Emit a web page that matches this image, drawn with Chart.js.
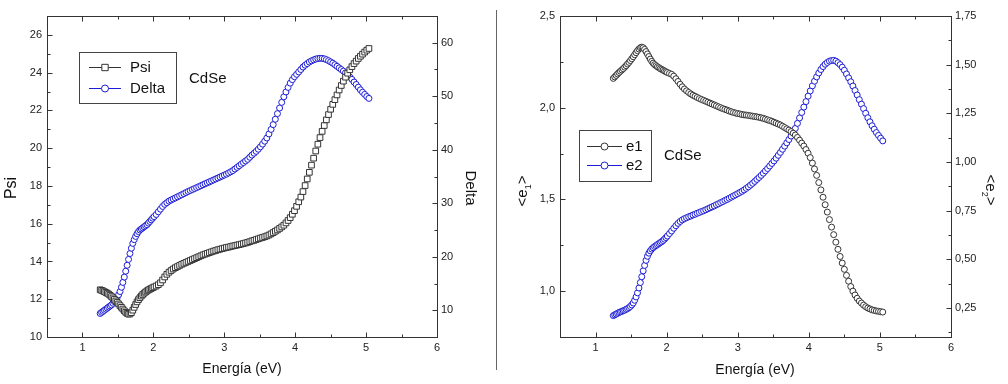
<!DOCTYPE html>
<html>
<head>
<meta charset="utf-8">
<script src="https://cdn.jsdelivr.net/npm/chart.js@4.4.1/dist/chart.umd.min.js"></script>
<style>
  body { margin: 0; background: #fff; width: 1008px; height: 384px; overflow: hidden; position: relative; }
  canvas { position: absolute; top: 0; }
  #left { left: 0; }
  #right { left: 500px; }
  .divider { position: absolute; left: 496px; top: 10px; width: 1px; height: 360px; background: #666; }
</style>
</head>
<body>
<canvas id="left" width="496" height="384"></canvas>
<canvas id="right" width="508" height="384"></canvas>
<div class="divider"></div>
<script>
// photon energy (eV), shared by both panels
var energy = [1.25,1.27,1.29,1.31,1.33,1.35,1.37,1.39,1.41,1.43,1.45,1.47,1.49,1.51,1.53,1.55,1.57,1.59,1.61,1.63,1.65,1.67,1.69,1.71,1.73,1.75,1.77,1.79,1.81,1.83,1.85,1.87,1.89,1.91,1.93,1.95,1.97,1.99,
  2.01,2.04,2.07,2.10,2.13,2.16,2.19,2.22,2.25,2.28,2.31,2.34,2.37,2.40,2.43,2.46,2.49,2.52,2.55,2.58,2.61,2.64,2.67,2.70,2.73,2.76,2.79,2.82,2.85,2.88,2.91,2.94,2.97,3.00,
  3.03,3.06,3.09,3.12,3.15,3.18,3.21,3.24,3.27,3.30,3.33,3.36,3.39,3.42,3.45,3.48,3.51,3.54,3.57,3.60,3.63,3.66,3.69,3.72,3.75,3.78,3.81,3.84,3.87,3.90,3.93,3.96,3.99,
  4.02,4.05,4.08,4.11,4.14,4.17,4.20,4.23,4.26,4.29,4.32,4.35,4.38,4.41,4.44,4.47,4.50,4.53,4.56,4.59,4.62,4.65,4.68,4.71,4.74,4.77,4.80,4.83,4.86,4.89,4.92,4.95,4.98,5.01,5.04];

var psi = [12.50,12.47,12.44,12.40,12.36,12.32,12.27,12.21,12.14,12.07,11.99,11.91,11.83,11.75,11.66,11.57,11.48,11.39,11.31,11.25,11.21,11.22,11.29,11.42,11.57,11.72,11.86,11.98,12.08,12.17,12.25,12.32,12.38,12.44,12.49,12.53,12.57,12.61,
  12.65,12.70,12.77,12.87,13.02,13.18,13.32,13.43,13.52,13.60,13.67,13.73,13.79,13.85,13.90,13.95,14.00,14.05,14.10,14.15,14.20,14.25,14.30,14.35,14.39,14.43,14.47,14.51,14.55,14.58,14.62,14.65,14.68,14.71,
  14.74,14.76,14.79,14.82,14.84,14.87,14.89,14.92,14.95,14.98,15.01,15.05,15.09,15.12,15.16,15.20,15.24,15.27,15.31,15.35,15.40,15.46,15.53,15.60,15.67,15.75,15.83,15.92,16.04,16.17,16.32,16.50,16.69,
  16.92,17.16,17.41,17.70,18.02,18.37,18.72,19.10,19.47,19.85,20.21,20.56,20.89,21.20,21.50,21.78,22.06,22.32,22.57,22.82,23.08,23.32,23.55,23.76,23.97,24.15,24.32,24.48,24.61,24.75,24.87,24.98,25.09,25.19,25.28];

var delta = [9.4,9.6,9.8,10.0,10.2,10.4,10.6,10.8,11.0,11.3,11.6,12.0,12.4,12.9,13.5,14.3,15.2,16.2,17.3,18.4,19.5,20.6,21.6,22.5,23.2,23.8,24.3,24.7,25.0,25.2,25.4,25.6,25.8,26.0,26.3,26.6,26.9,27.2,
  27.5,27.9,28.4,28.9,29.4,29.8,30.1,30.4,30.6,30.8,31.0,31.2,31.4,31.6,31.8,32.0,32.2,32.38,32.56,32.74,32.92,33.1,33.28,33.46,33.64,33.82,34.0,34.18,34.36,34.54,34.72,34.9,35.08,35.26,
  35.44,35.65,35.88,36.1,36.4,36.7,37.0,37.3,37.6,37.9,38.2,38.6,39.0,39.35,39.7,40.1,40.55,41.05,41.6,42.2,42.95,43.8,44.7,45.7,46.75,47.8,48.85,49.9,50.8,51.65,52.45,53.1,53.65,
  54.1,54.55,55.0,55.45,55.8,56.1,56.4,56.62,56.8,56.95,57.05,57.1,57.08,57.0,56.85,56.65,56.42,56.18,55.9,55.6,55.3,55.0,54.7,54.38,54.0,53.6,53.15,52.65,52.2,51.7,51.2,50.75,50.35,49.95,49.6];

var e1 = [2.160,2.168,2.176,2.184,2.192,2.199,2.206,2.213,2.221,2.229,2.238,2.247,2.257,2.267,2.278,2.289,2.300,2.311,2.320,2.327,2.330,2.327,2.318,2.306,2.293,2.279,2.265,2.253,2.243,2.235,2.229,2.223,2.218,2.213,2.209,2.205,2.200,2.196,
  2.192,2.187,2.182,2.172,2.158,2.143,2.128,2.114,2.102,2.092,2.083,2.075,2.068,2.062,2.056,2.050,2.045,2.040,2.035,2.030,2.025,2.020,2.015,2.010,2.005,2.000,1.995,1.991,1.987,1.982,1.978,1.974,1.971,1.968,
  1.966,1.963,1.961,1.960,1.958,1.956,1.954,1.952,1.950,1.948,1.945,1.942,1.938,1.934,1.930,1.926,1.921,1.916,1.911,1.906,1.899,1.892,1.885,1.878,1.870,1.861,1.851,1.838,1.823,1.807,1.791,1.772,1.752,
  1.728,1.698,1.666,1.631,1.592,1.552,1.512,1.471,1.431,1.390,1.349,1.308,1.267,1.228,1.189,1.153,1.119,1.086,1.054,1.025,1.000,0.979,0.961,0.946,0.935,0.924,0.915,0.908,0.903,0.898,0.895,0.892,0.890,0.888,0.886];

var e2 = [0.210,0.214,0.218,0.222,0.226,0.229,0.232,0.235,0.238,0.242,0.246,0.251,0.257,0.265,0.275,0.289,0.306,0.327,0.352,0.380,0.410,0.440,0.468,0.494,0.515,0.531,0.543,0.552,0.559,0.565,0.570,0.575,0.580,0.585,0.590,0.596,0.603,0.611,
  0.619,0.632,0.645,0.659,0.672,0.684,0.694,0.702,0.708,0.713,0.718,0.722,0.727,0.731,0.736,0.740,0.745,0.749,0.754,0.759,0.764,0.769,0.774,0.780,0.785,0.791,0.796,0.802,0.807,0.813,0.819,0.825,0.831,0.837,
  0.843,0.849,0.856,0.864,0.872,0.881,0.890,0.900,0.910,0.920,0.931,0.942,0.954,0.966,0.979,0.992,1.005,1.019,1.034,1.049,1.065,1.081,1.098,1.115,1.133,1.152,1.172,1.198,1.226,1.254,1.282,1.310,1.338,
  1.365,1.391,1.415,1.437,1.457,1.475,1.490,1.502,1.511,1.518,1.521,1.522,1.518,1.510,1.500,1.487,1.471,1.452,1.432,1.412,1.390,1.367,1.344,1.320,1.297,1.274,1.250,1.227,1.206,1.186,1.168,1.151,1.136,1.122,1.108];

var energyTicks = [1, 2, 3, 4, 5, 6];
var psiTicks = [10, 12, 14, 16, 18, 20, 22, 24, 26];
var deltaTicks = [10, 20, 30, 40, 50, 60];
var e1Ticks = [1.0, 1.5, 2.0, 2.5];
var e2Ticks = [0.25, 0.50, 0.75, 1.00, 1.25, 1.50, 1.75];

var FONT = "'Liberation Sans', Arial, sans-serif";
var BLUE = '#1c1cd6';
var DARK = '#333';

function pts(xs, ys) {
  return xs.map(function(x, i) { return {x: x, y: ys[i]}; });
}

function setTicks(values) {
  return function(scale) {
    scale.ticks = values.map(function(v) { return {value: v}; });
  };
}

function minorValues(scale) {
  var t = scale.ticks.map(function(k) { return k.value; });
  var step = t[1] - t[0];
  var out = [];
  for (var v = t[0] - step / 2; v <= scale.max + 1e-9; v += step) {
    if (v >= scale.min - 1e-9) out.push(v);
  }
  return out;
}

function comma(dec) {
  return function(v) { return Number(v).toFixed(dec).replace('.', ','); };
}

// frame, inward ticks, axis titles, legend box and note
var panelDeco = {
  id: 'panelDeco',
  afterDraw: function(chart, args, opts) {
    var ctx = chart.ctx;
    var a = chart.chartArea;
    var L = Math.round(a.left) + 0.5, R = Math.round(a.right) + 0.5;
    var T = Math.round(a.top) + 0.5, B = Math.round(a.bottom) + 0.5;
    ctx.save();
    ctx.strokeStyle = DARK;
    ctx.lineWidth = 1;
    ctx.strokeRect(L, T, R - L, B - T);

    ctx.beginPath();
    var sx = chart.scales.x;
    sx.ticks.forEach(function(t) {
      var p = Math.round(sx.getPixelForValue(t.value)) + 0.5;
      ctx.moveTo(p, B); ctx.lineTo(p, B - 5);
      ctx.moveTo(p, T); ctx.lineTo(p, T + 5);
    });
    minorValues(sx).forEach(function(v) {
      var p = Math.round(sx.getPixelForValue(v)) + 0.5;
      ctx.moveTo(p, B); ctx.lineTo(p, B - 3);
      ctx.moveTo(p, T); ctx.lineTo(p, T + 3);
    });
    var sy = chart.scales.y, sy2 = chart.scales.y2;
    sy.ticks.forEach(function(t) {
      var p = Math.round(sy.getPixelForValue(t.value)) + 0.5;
      ctx.moveTo(L, p); ctx.lineTo(L + 5, p);
    });
    minorValues(sy).forEach(function(v) {
      var p = Math.round(sy.getPixelForValue(v)) + 0.5;
      ctx.moveTo(L, p); ctx.lineTo(L + 3, p);
    });
    sy2.ticks.forEach(function(t) {
      var p = Math.round(sy2.getPixelForValue(t.value)) + 0.5;
      ctx.moveTo(R, p); ctx.lineTo(R - 5, p);
    });
    minorValues(sy2).forEach(function(v) {
      var p = Math.round(sy2.getPixelForValue(v)) + 0.5;
      ctx.moveTo(R, p); ctx.lineTo(R - 3, p);
    });
    ctx.stroke();

    // axis titles
    ctx.fillStyle = '#111';
    ctx.textBaseline = 'middle';
    opts.titles.forEach(function(tt) {
      ctx.save();
      ctx.translate(tt.x, tt.y);
      ctx.rotate(tt.rot * Math.PI / 180);
      var parts = tt.parts;
      var w = 0;
      parts.forEach(function(p) {
        ctx.font = (p.sub ? Math.round(tt.size * 0.6) : tt.size) + 'px ' + FONT;
        p.w = ctx.measureText(p.t).width;
        w += p.w;
      });
      var x = -w / 2;
      ctx.textAlign = 'left';
      parts.forEach(function(p) {
        ctx.font = (p.sub ? Math.round(tt.size * 0.6) : tt.size) + 'px ' + FONT;
        ctx.fillText(p.t, x, p.sub ? tt.size * 0.35 : 0);
        x += p.w;
      });
      ctx.restore();
    });

    // legend
    var lg = opts.legend;
    ctx.strokeStyle = '#444';
    ctx.strokeRect(lg.box[0] + 0.5, lg.box[1] + 0.5, lg.box[2] - lg.box[0], lg.box[3] - lg.box[1]);
    ctx.font = '15px ' + FONT;
    ctx.textAlign = 'left';
    chart.data.datasets.forEach(function(ds, i) {
      var y = lg.rows[i];
      ctx.strokeStyle = ds.borderColor;
      ctx.lineWidth = 1;
      ctx.beginPath();
      ctx.moveTo(lg.line[0], Math.round(y) + 0.5);
      ctx.lineTo(lg.line[1], Math.round(y) + 0.5);
      ctx.stroke();
      ctx.fillStyle = '#fff';
      Chart.helpers.drawPoint(ctx, {pointStyle: ds.pointStyle, radius: ds.pointRadius + 0.5, borderWidth: 1, rotation: 0},
        (lg.line[0] + lg.line[1]) / 2, Math.round(y) + 0.5);
      ctx.fillStyle = '#111';
      ctx.fillText(ds.label, lg.textX, y + 1);
    });

    // sample name
    ctx.fillText(opts.note.text, opts.note.x, opts.note.y);
    ctx.restore();
  }
};

function axis(position, min, max, ticks, size, fmt) {
  var horiz = position === 'bottom';
  var conf = {
    type: 'linear',
    position: position,
    min: min,
    max: max,
    grid: {display: false, drawTicks: false},
    border: {display: false},
    ticks: {padding: horiz ? 4 : (position === 'left' ? 5 : 4), color: '#222', font: {family: FONT, size: 11}},
    afterBuildTicks: setTicks(ticks),
    afterFit: function(s) { if (horiz) s.height = size; else s.width = size; }
  };
  if (fmt) conf.ticks.callback = fmt;
  return conf;
}

function baseOptions(scales, deco) {
  return {
    responsive: false,
    animation: false,
    events: [],
    layout: {padding: {top: 16, left: 0, right: 0, bottom: 0}},
    plugins: {legend: {display: false}, tooltip: {enabled: false}, panelDeco: deco},
    scales: scales
  };
}

new Chart(document.getElementById('left'), {
  type: 'scatter',
  data: {
    datasets: [
      {label: 'Psi', data: pts(energy, psi), yAxisID: 'y', pointStyle: 'rect', pointRadius: 4,
       borderColor: DARK, backgroundColor: '#fff', pointBorderWidth: 1},
      {label: 'Delta', data: pts(energy, delta), yAxisID: 'y2', pointStyle: 'circle', pointRadius: 3,
       borderColor: BLUE, backgroundColor: '#fff', pointBorderWidth: 1}
    ]
  },
  options: baseOptions({
    x: axis('bottom', 0.5, 6, energyTicks, 47),
    y: axis('left', 10, 27, psiTicks, 47),
    y2: axis('right', 5, 65, deltaTicks, 59)
  }, {
    titles: [
      {parts: [{t: 'Psi'}], x: 12, y: 188, rot: -90, size: 16},
      {parts: [{t: 'Delta'}], x: 470, y: 188, rot: 90, size: 15},
      {parts: [{t: 'Energía (eV)'}], x: 242, y: 369, rot: 0, size: 14}
    ],
    legend: {box: [79, 52, 176, 103], rows: [67, 87.5], line: [89, 121], textX: 130},
    note: {text: 'CdSe', x: 189, y: 79}
  }),
  plugins: [panelDeco]
});

new Chart(document.getElementById('right'), {
  type: 'scatter',
  data: {
    datasets: [
      {label: 'e1', data: pts(energy, e1), yAxisID: 'y', pointStyle: 'circle', pointRadius: 3,
       borderColor: DARK, backgroundColor: '#fff', pointBorderWidth: 1},
      {label: 'e2', data: pts(energy, e2), yAxisID: 'y2', pointStyle: 'circle', pointRadius: 3,
       borderColor: BLUE, backgroundColor: '#fff', pointBorderWidth: 1}
    ]
  },
  options: baseOptions({
    x: axis('bottom', 0.5, 6, energyTicks, 47),
    y: axis('left', 0.75, 2.5, e1Ticks, 60, comma(1)),
    y2: axis('right', 0.1, 1.75, e2Ticks, 57, comma(2))
  }, {
    titles: [
      {parts: [{t: '<e'}, {t: '1', sub: true}, {t: '>'}], x: 23, y: 191, rot: -90, size: 15},
      {parts: [{t: '<e'}, {t: '2', sub: true}, {t: '>'}], x: 490, y: 190, rot: 90, size: 15},
      {parts: [{t: 'Energía (eV)'}], x: 255, y: 370, rot: 0, size: 14}
    ],
    legend: {box: [79, 130, 151, 181], rows: [146, 165], line: [87, 122], textX: 126},
    note: {text: 'CdSe', x: 164, y: 156}
  }),
  plugins: [panelDeco]
});
</script>
</body>
</html>
